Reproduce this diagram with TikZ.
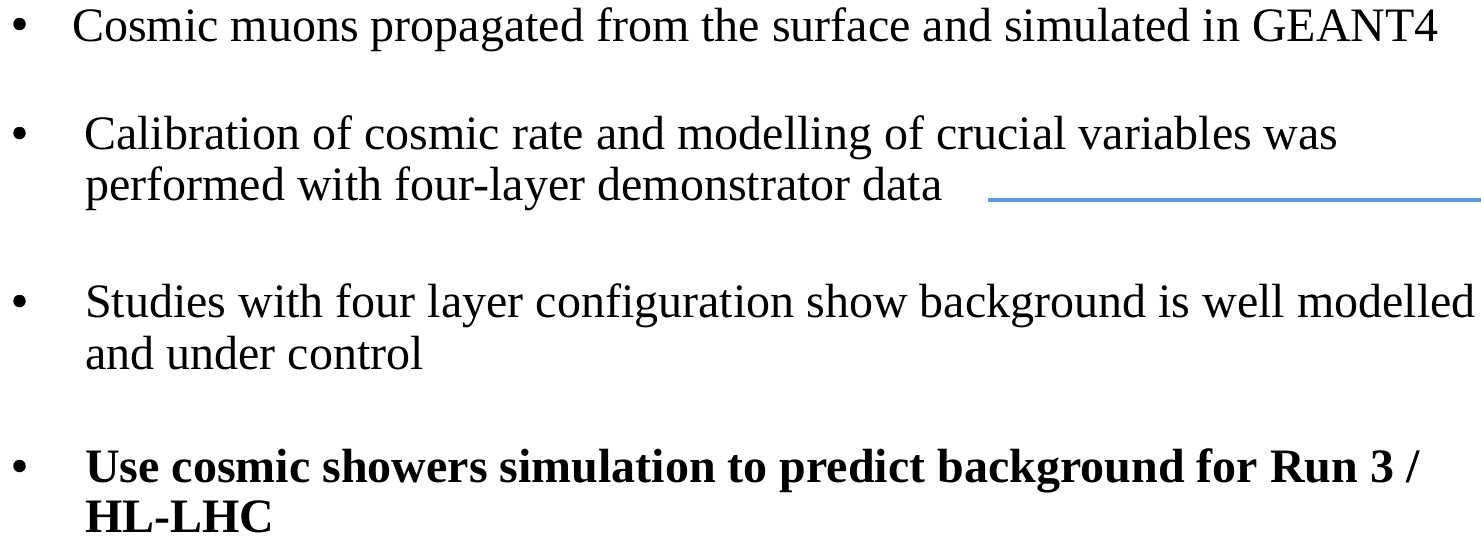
\documentclass[tikz,border=0pt]{standalone}
\usepackage{fontspec}
\setmainfont{Liberation Serif}
\definecolor{accentblue}{HTML}{5B9BD5}
\begin{document}
\begin{tikzpicture}[x=1pt,y=1pt,
  txt/.style={anchor=base west, inner sep=0pt, font=\fontsize{48}{50}\selectfont},
  bold/.style={txt, font=\fontsize{48}{50}\selectfont\bfseries},
  bul/.style={circle, fill=black, inner sep=0pt, minimum size=12.5pt},
  rule/.style={draw=accentblue, line width=4pt}]
\useasboundingbox (0,0) rectangle (1481,-549);
% bullet 1
\node[bul] (b1) at (19.5,-24) {};
\node[txt] (t1) at (72,-41) {Cosmic muons propagated from the surface and simulated in GEANT4};
% bullet 2
\node[bul] (b2) at (19.5,-133) {};
\node[txt] (t2a) at (84,-149) {Calibration of cosmic rate and modelling of crucial variables was};
\node[txt] (t2b) at (85,-200) {performed with four-layer demonstrator data};
% bullet 3
\node[bul] (b3) at (19.5,-301) {};
\node[txt] (t3a) at (85,-317) {Studies with four layer configuration show background is well modelled};
\node[txt] (t3b) at (85,-369) {and under control};
% bullet 4
\node[bul] (b4) at (19.5,-466) {};
\node[bold] (t4a) at (85,-482) {Use cosmic showers simulation to predict background for Run 3 /};
\node[bold] (t4b) at (85,-532) {HL-LHC};
% rule to the right of the second item
\coordinate (r0) at (988,-200);
\coordinate (r1) at (1481,-200);
\draw[rule] (r0) -- (r1);
\end{tikzpicture}
\end{document}
